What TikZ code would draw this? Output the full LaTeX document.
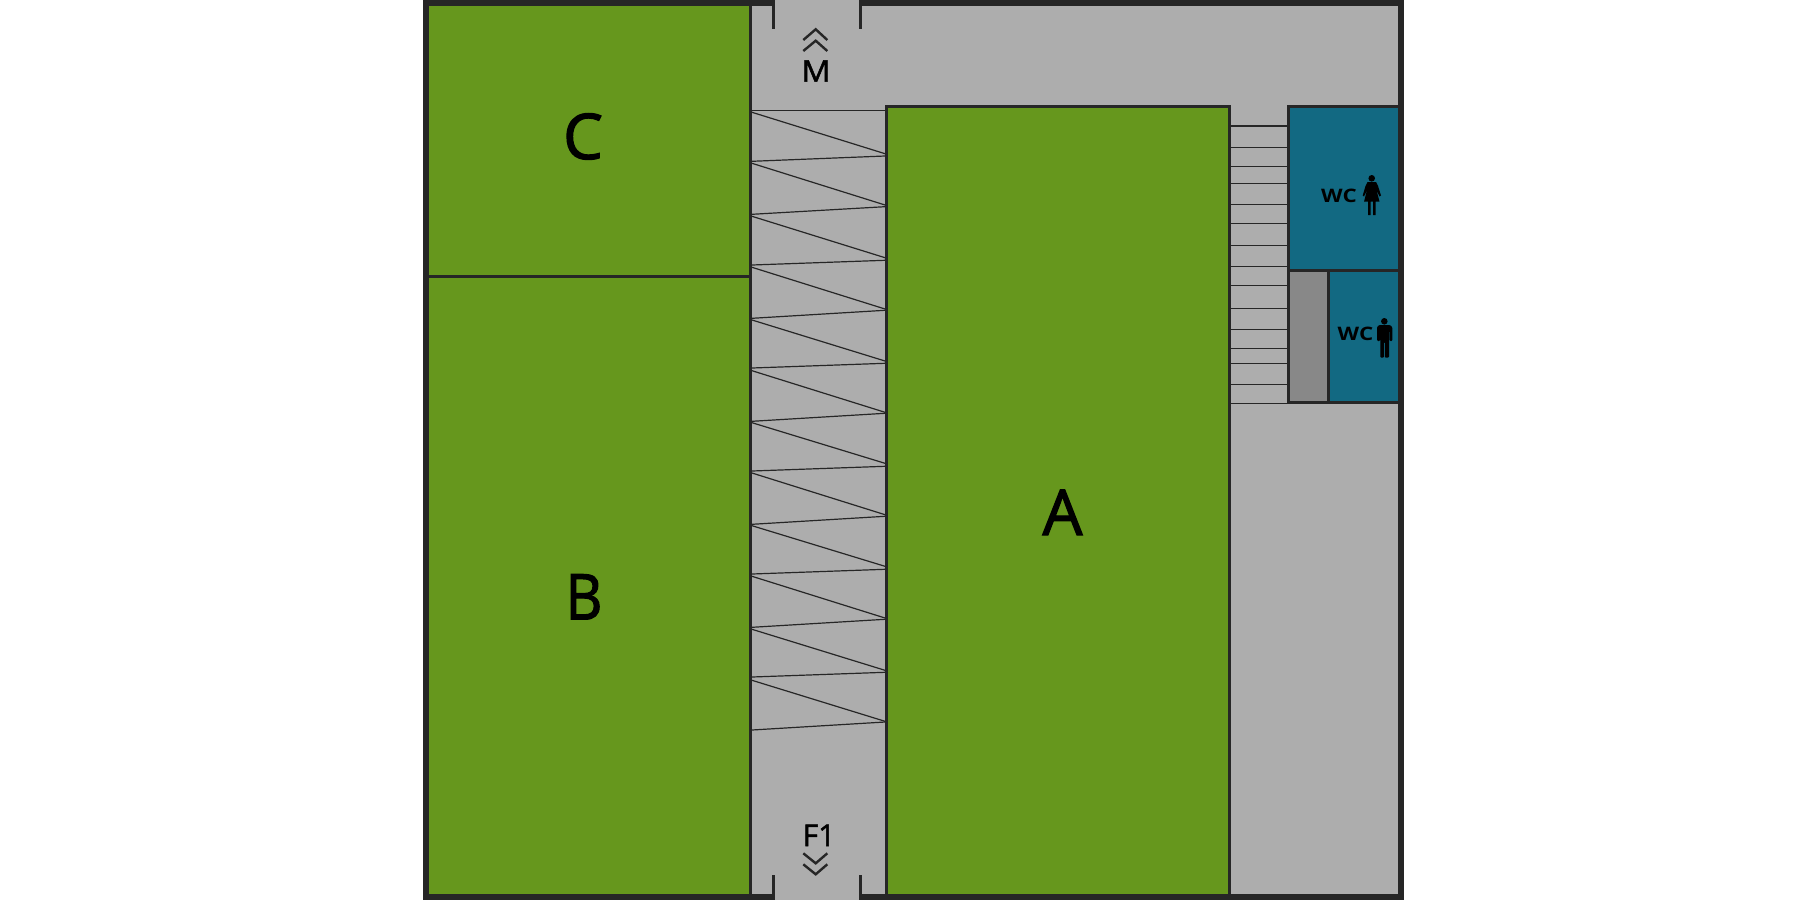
\documentclass[tikz,border=0pt]{standalone}
\usepackage{fontspec}
\setmainfont{Open Sans}
\newfontfamily\medbig[FakeBold=2]{Open Sans}
\newfontfamily\medsmall[FakeBold=1.6]{Open Sans}
\definecolor{floorgray}{RGB}{173,173,173}
\definecolor{roomgreen}{RGB}{102,151,29}
\definecolor{wcteal}{RGB}{18,105,130}
\definecolor{shaftgray}{RGB}{136,136,136}
\definecolor{wallink}{RGB}{38,38,38}
\tikzset{
  room/.style={draw=wallink,line width=3pt,line join=miter},
  stairline/.style={draw=wallink,line width=1.2pt},
  chevron/.style={draw=wallink,line width=2.4pt,line join=miter},
  biglabel/.style={font=\medbig\fontsize{63}{63}\selectfont,text=black,inner sep=0pt,anchor=base},
  floorlabel/.style={font=\medsmall\fontsize{30}{30}\selectfont,text=black,inner sep=0pt,anchor=base},
  wclabel/.style={font=\fontsize{18.6}{18.6}\selectfont\bfseries,text=black,inner sep=0pt,anchor=base},
}
\begin{document}
\begin{tikzpicture}[x=1pt,y=-1pt]
\useasboundingbox (0,0) rectangle (1803,900);
% floor
\fill[floorgray] (423,0) rectangle (1404,900);
% rooms
\path[room,fill=roomgreen] (427.5,1.5) rectangle (750.5,276.5);
\path[room,fill=roomgreen] (427.5,276.5) rectangle (750.5,898.5);
\path[room,fill=roomgreen] (886.5,106.5) rectangle (1229.5,898.5);
\path[room,fill=wcteal] (1288.5,106.5) rectangle (1400,270.5);
\path[room,fill=shaftgray] (1288.5,270.5) rectangle (1328.5,402.5);
\path[room,fill=wcteal] (1328.5,270.5) rectangle (1400,402.5);
% stair lines, left corridor
\foreach \a/\b in {110.3/110.3,161.3/156,214.3/206.7,265/260.3,318.3/310.3,368/363.3,421.3/413.3,471/466.3,524.3/516.3,574/569.3,627.3/619.3,677/672.3,730/722}
  \draw[stairline] (752,\a) -- (885,\b);
\foreach \a/\b in {112.3/153.7,163.3/205,216.3/257.7,267.3/309,320/361,370.7/412.3,422.7/463.3,473/514.7,525.7/566.3,576.3/618,629.3/670.3,680.3/721.3}
  \draw[stairline] (752,\a) -- (885,\b);
% stair lines, right corridor
\foreach \y in {126,147.3,166.3,183.3,204.3,223.3,245.3,266.3,285.3,308.3,329.3,348.3,363.3,384.3,403.3}
  \draw[stairline] (1231,\y) -- (1287,\y);
% outer walls
\fill[wallink] (423,0) rectangle (775,6);
\fill[wallink] (859,0) rectangle (1404,6);
\fill[wallink] (423,894) rectangle (775,900);
\fill[wallink] (859,894) rectangle (1404,900);
\fill[wallink] (423,0) rectangle (429,900);
\fill[wallink] (1398,0) rectangle (1404,900);
% door jambs
\fill[wallink] (772,0) rectangle (775,29);
\fill[wallink] (859,0) rectangle (862,29);
\fill[wallink] (772,875) rectangle (775,900);
\fill[wallink] (859,875) rectangle (862,900);
% chevrons
\draw[chevron] (803.3,40) -- (815.7,29.3) -- (827.3,40);
\draw[chevron] (803.3,51) -- (815.7,40.7) -- (827.3,51);
\draw[chevron] (803.3,853.3) -- (815.7,863.3) -- (827.3,853.3);
\draw[chevron] (803.3,864.3) -- (815.7,874.3) -- (827.3,864.3);
% labels
\node[floorlabel] (m) at (816,81.7) {\scalebox{1.08}[1]{M}};
\node[floorlabel] (f1) at (819,846) {F1};
\node[biglabel] (a) at (1062.5,535) {A};
\node[biglabel] (b) at (584,619.3) {\scalebox{0.9}[1]{B}};
\node[biglabel] (c) at (583,159) {C};
\node[wclabel] (wcw) at (1339,202) {\scalebox{1.2}[1]{WC}};
\node[wclabel] (wcm) at (1355.5,340.5) {\scalebox{1.2}[1]{WC}};
% woman icon
\fill[black] (1371.7,178.3) circle (3.3);
\fill[black] (1367.5,182) -- (1376,182) -- (1378,186) -- (1381,195.5) -- (1379.5,196.5) -- (1376.5,190) -- (1379.5,201.7) -- (1375.7,201.7) -- (1375.7,215) -- (1373,215) -- (1373,201.7) -- (1370.7,201.7) -- (1370.7,215) -- (1368,215) -- (1368,201.7) -- (1364,201.7) -- (1367,190) -- (1364,196.5) -- (1362.7,195.5) -- (1365.5,186) -- cycle;
% man icon
\fill[black] (1384.3,321.3) circle (3.3);
\fill[black,rounded corners=1pt] (1379,325) -- (1390,325) -- (1392.3,327) -- (1392.3,341) -- (1389.5,341) -- (1389.5,331) -- (1389,331) -- (1389,357.7) -- (1384.8,357.7) -- (1384.8,342) -- (1383.8,342) -- (1383.8,357.7) -- (1380.3,357.7) -- (1380.3,331) -- (1380,331) -- (1380,341) -- (1377,341) -- (1377,327) -- cycle;
\end{tikzpicture}
\end{document}
